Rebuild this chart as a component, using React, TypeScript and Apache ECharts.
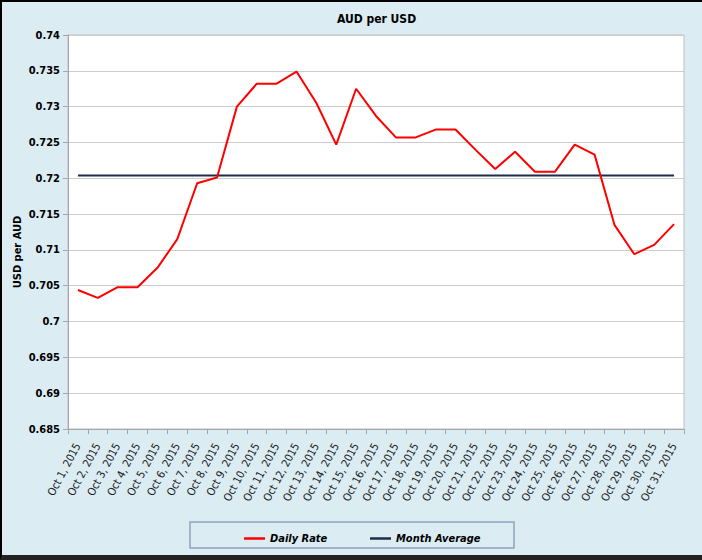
import React, { useEffect, useRef } from "react";
import * as echarts from "echarts";

const categories: string[] = Array.from({ length: 31 }, (_, i) => `Oct ${i + 1}, 2015`);
const dailyRate: number[] = [
  0.7044, 0.7033, 0.7048, 0.7048, 0.7075, 0.7115, 0.7193, 0.7201, 0.73, 0.7332,
  0.7332, 0.7349, 0.7305, 0.7247, 0.7325, 0.7287, 0.7257, 0.7257, 0.7268, 0.7268,
  0.724, 0.7213, 0.7237, 0.7209, 0.7209, 0.7247, 0.7233, 0.7135, 0.7094, 0.7107,
  0.7136,
];
const monthAverageValue = 0.7204;
const monthAverage: number[] = categories.map(() => monthAverageValue);
const yMin = 0.685;
const yMax = 0.74;
const yInterval = 0.005;

const FONT = "'Liberation Sans Narrow', 'DejaVu Sans Condensed', 'Liberation Sans', Arial, sans-serif";

export default function App() {
  const ref = useRef<HTMLDivElement>(null);
  useEffect(() => {
    if (!ref.current) return;
    const chart = echarts.init(ref.current, undefined, { renderer: "svg" });
    const legendText = { fontFamily: FONT, fontSize: 11, fontWeight: "bold", fontStyle: "italic", color: "#000" };
    chart.setOption({
      animation: false,
      backgroundColor: "transparent",
      textStyle: { fontFamily: FONT },
      title: {
        text: "AUD per USD",
        left: 330,
        top: 6,
        textStyle: { fontFamily: FONT, fontSize: 12, fontWeight: "bold", color: "#000" },
      },
      grid: {
        left: 66,
        right: 18,
        top: 33,
        bottom: 126,
        show: true,
        backgroundColor: "#ffffff",
        borderColor: "#bfbfbf",
        borderWidth: 1,
      },
      graphic: [
        {
          type: "rect",
          shape: { x: 188, y: 520, width: 324, height: 26 },
          style: { fill: "transparent", stroke: "#8ea4c0", lineWidth: 1.5 },
          silent: true,
        },
        {
          type: "text",
          x: 15,
          y: 250,
          rotation: Math.PI / 2,
          style: {
            text: "USD per AUD",
            fontFamily: FONT,
            fontSize: 11,
            fontWeight: "bold",
            fill: "#000",
            align: "center",
            verticalAlign: "middle",
          },
          silent: true,
        },
      ],
      legend: [
        {
          data: ["Daily Rate"],
          left: 237,
          top: 526,
          icon: "rect",
          itemWidth: 21,
          itemHeight: 2.5,
          textStyle: legendText,
        },
        {
          data: ["Month Average"],
          left: 363,
          top: 526,
          icon: "rect",
          itemWidth: 21,
          itemHeight: 2.5,
          textStyle: legendText,
        },
      ],
      xAxis: {
        type: "category",
        data: categories,
        boundaryGap: true,
        axisLine: { lineStyle: { color: "#a6a6a6" } },
        axisTick: { show: true, interval: 0, length: 5, lineStyle: { color: "#a6a6a6" } },
        axisLabel: {
          interval: 0,
          rotate: 62,
          fontSize: 11,
          color: "#1a1a1a",
          fontFamily: FONT,
          margin: 15,
        },
        splitLine: { show: false },
      },
      yAxis: {
        type: "value",
        min: yMin,
        max: yMax,
        interval: yInterval,
        axisLine: { show: true, lineStyle: { color: "#a6a6a6" } },
        axisTick: { show: true, length: 5, lineStyle: { color: "#a6a6a6" } },
        axisLabel: {
          fontSize: 11,
          fontWeight: "bold",
          color: "#000",
          fontFamily: FONT,
          margin: 8,
          formatter: (v: number) => String(parseFloat(v.toFixed(3))),
        },
        splitLine: { show: true, lineStyle: { color: "#cccccc", width: 1 } },
      },
      series: [
        {
          name: "Daily Rate",
          type: "line",
          data: dailyRate,
          symbol: "none",
          lineStyle: { color: "#ff0000", width: 2 },
          itemStyle: { color: "#ff0000" },
          z: 3,
        },
        {
          name: "Month Average",
          type: "line",
          data: monthAverage,
          symbol: "none",
          lineStyle: { color: "#1f2d4a", width: 2 },
          itemStyle: { color: "#1f2d4a" },
          z: 2,
        },
      ],
    });
    return () => chart.dispose();
  }, []);

  return (
    <div
      style={{
        position: "fixed",
        left: 0,
        top: 0,
        width: 702,
        height: 560,
        boxSizing: "border-box",
        borderLeft: "2px solid #000",
        borderTop: "2px solid #000",
        borderBottom: "5px solid #222",
        background: "#dbecf3",
      }}
    >
      <div ref={ref} style={{ width: 700, height: 553 }} />
    </div>
  );
}
